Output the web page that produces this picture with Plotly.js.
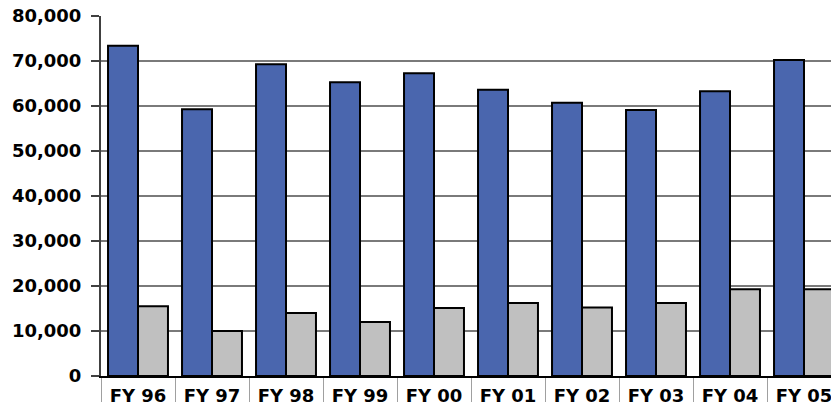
<!DOCTYPE html>
<html>
<head>
<meta charset="utf-8">
<script src="https://cdn.plot.ly/plotly-3.0.1.min.js"></script>
<style>
html, body { margin: 0; padding: 0; overflow: hidden; background: #fff; width: 831px; height: 402px; }
#chart { width: 860px; height: 402px; }
</style>
</head>
<body>
<div id="chart"></div>
<script>
var categories = ["FY 96", "FY 97", "FY 98", "FY 99", "FY 00", "FY 01", "FY 02", "FY 03", "FY 04", "FY 05"];
var seriesA = [73400, 59300, 69300, 65300, 67300, 63600, 60700, 59100, 63300, 70200];
var seriesB = [15500, 10000, 14000, 12000, 15100, 16200, 15200, 16200, 19300, 19300];
var yTickValues = [0, 10000, 20000, 30000, 40000, 50000, 60000, 70000, 80000];

var fontFamily = "DejaVu Sans, Liberation Sans, Arial, sans-serif";

var traces = [
  {
    type: "bar", x: categories, y: seriesA, name: "A",
    marker: { color: "#4a66ae", line: { color: "#000000", width: 2 } },
    hoverinfo: "x+y"
  },
  {
    type: "bar", x: categories, y: seriesB, name: "B",
    marker: { color: "#c0c0c0", line: { color: "#000000", width: 2 } },
    hoverinfo: "x+y"
  }
];

var layout = {
  width: 860, height: 402,
  margin: { l: 101, r: 19, t: 16, b: 26, pad: 0 },
  paper_bgcolor: "#ffffff", plot_bgcolor: "#ffffff",
  showlegend: false,
  barmode: "group", bargap: 0.19, bargroupgap: 0,
  font: { family: fontFamily, size: 18, color: "#000000" },
  xaxis: {
    type: "category",
    showgrid: false,
    showline: true, linecolor: "#000000", linewidth: 2,
    ticks: "outside", tickson: "boundaries", ticklen: 30, tickcolor: "#a0a0a0", tickwidth: 1,
    tickfont: { family: fontFamily, size: 18, color: "#000000", weight: "bold" },
    ticklabelstandoff: 2,
    fixedrange: true
  },
  yaxis: {
    range: [0, 80000],
    tickvals: yTickValues,
    tickformat: ",d",
    showgrid: true, gridcolor: "#7a7a7a", gridwidth: 1.5,
    showline: true, linecolor: "#404040", linewidth: 2,
    ticks: "outside", ticklen: 8, tickcolor: "#404040", tickwidth: 1.5,
    tickfont: { family: fontFamily, size: 18, color: "#000000", weight: "bold" },
    ticklabelstandoff: 6,
    zeroline: false,
    fixedrange: true
  }
};

Plotly.newPlot("chart", traces, layout, { displayModeBar: false, staticPlot: true });
</script>
</body>
</html>
